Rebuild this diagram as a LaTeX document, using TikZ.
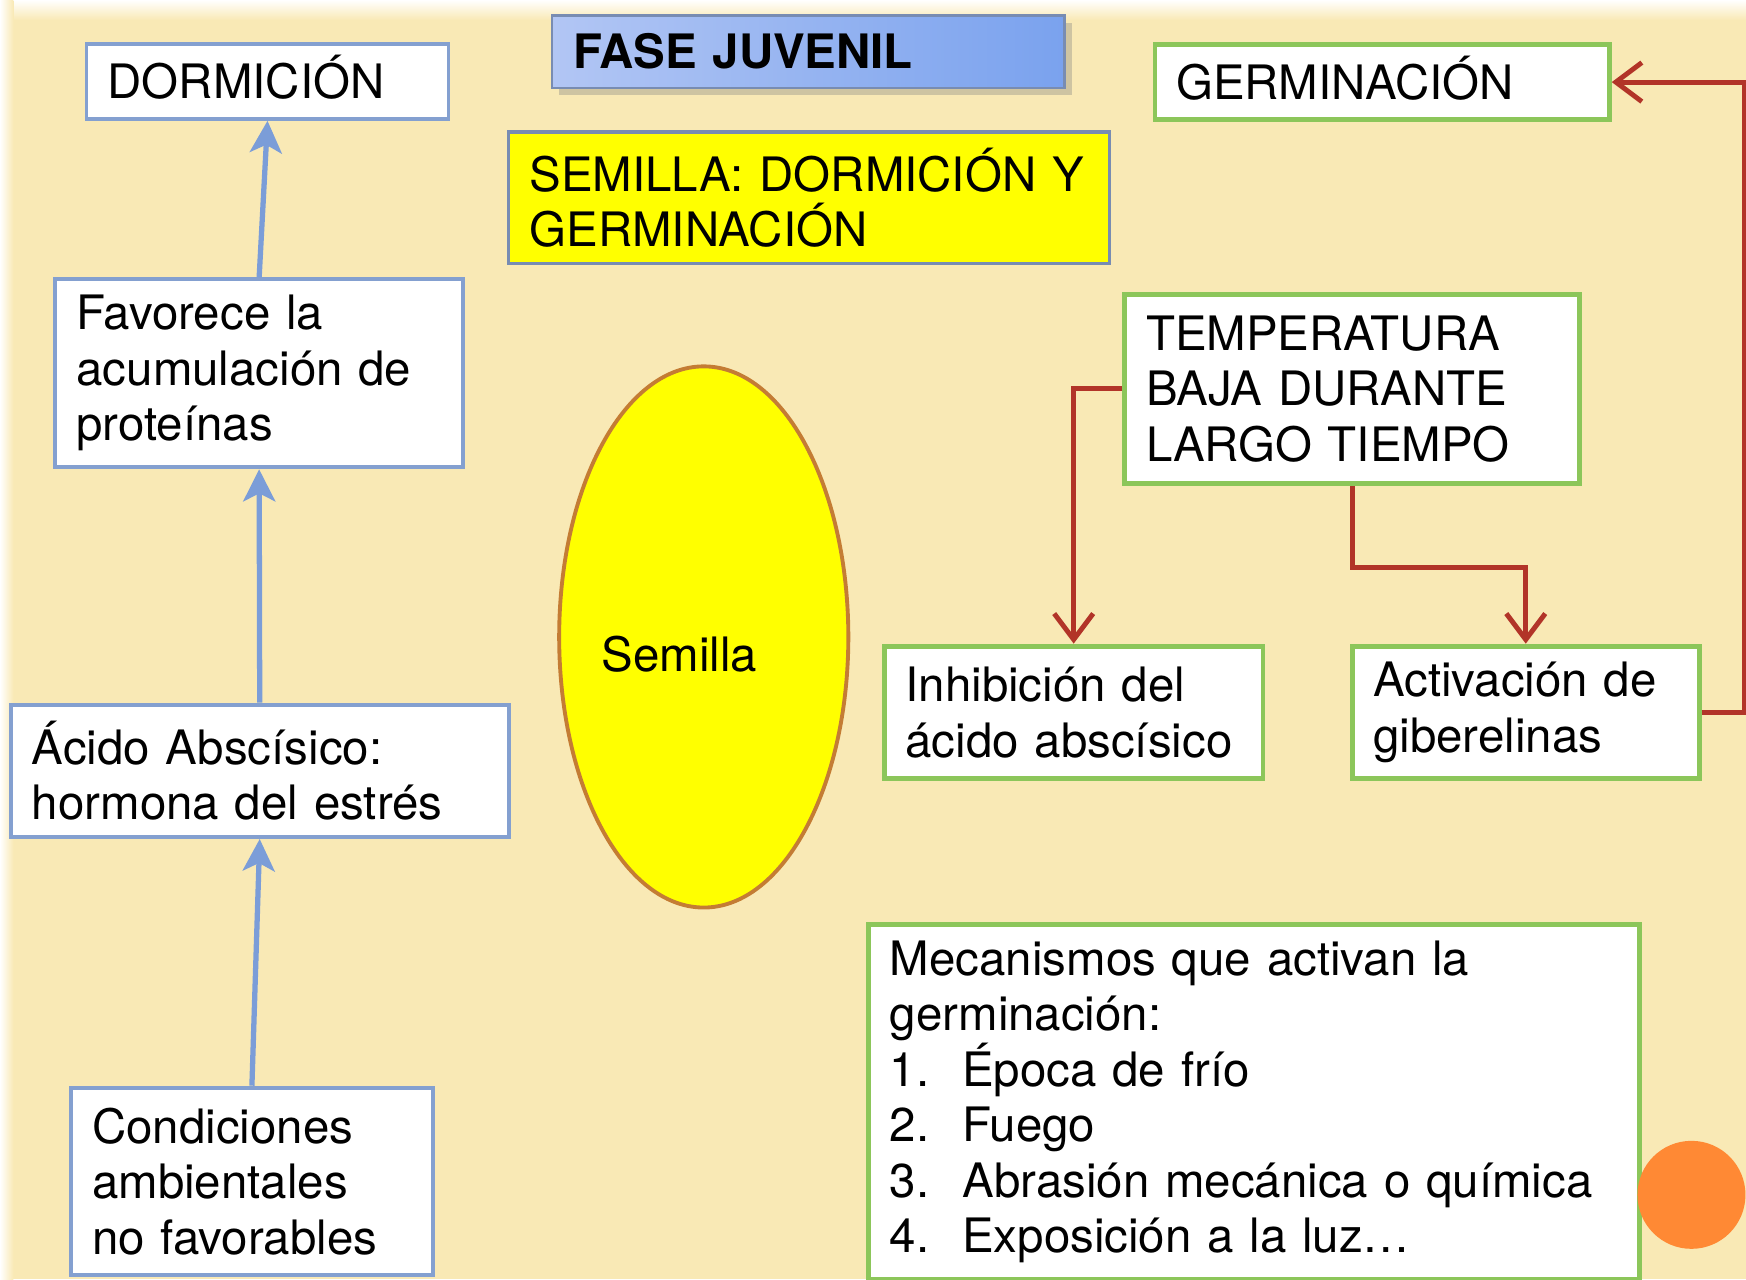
\documentclass[tikz,border=0pt]{standalone}
\usepackage{fontspec}
\setmainfont{TeX Gyre Heros}
\usetikzlibrary{arrows.meta,shapes.geometric,shadows}
\newlength{\px}
\setlength{\px}{0.011135cm}
\definecolor{bgbeige}{RGB}{249,233,181}
\definecolor{boxblue}{RGB}{132,160,208}
\definecolor{boxgreen}{RGB}{140,198,90}
\definecolor{arrowblue}{RGB}{123,157,216}
\definecolor{arrowred}{RGB}{178,52,40}
\definecolor{seedline}{RGB}{196,124,52}
\definecolor{titleline}{RGB}{120,140,178}
\definecolor{faseL}{RGB}{178,198,244}
\definecolor{faseM}{RGB}{206,218,246}
\definecolor{faseR}{RGB}{122,162,238}
\definecolor{seedfill}{RGB}{255,255,0}
\definecolor{dot}{RGB}{255,137,52}
\begin{document}
\begin{tikzpicture}[
  x=0.011135cm, y=-0.011135cm,
  box/.style={
    draw,
    fill=white,
    anchor=north west,
    align=left,
    inner xsep=19\px,
    inner ysep=0pt,
    font=\fontsize{13.5}{15.8}\selectfont
  },
  oneline/.style={text height=9.7pt, text depth=0pt},
  bluebox/.style={box, draw=boxblue, line width=1.1pt},
  greenbox/.style={box, draw=boxgreen, line width=1.4pt},
  bluearrow/.style={-{Stealth[length=3.2mm, width=3.2mm, inset=0.8mm]}, draw=arrowblue, line width=1.5pt},
  redarrow/.style={-{Straight Barb[length=2.6mm, width=3.9mm]}, draw=arrowred, line width=1.4pt}
]
\useasboundingbox (0,0) rectangle (1568,1149);
% background
\fill[bgbeige] (0,0) rectangle (1568,1149);
\shade[top color=white, bottom color=bgbeige] (0,0) rectangle (1568,18);
\shade[left color=white, right color=bgbeige] (0,0) rectangle (12,1149);

% titles
\node[box, oneline, draw=titleline, line width=0.6pt, left color=faseL, middle color=faseM, right color=faseR,
  drop shadow={shadow xshift=2pt, shadow yshift=-2pt, opacity=0.35},
  text width=422\px, minimum height=65\px, font=\fontsize{13.5}{15.8}\selectfont\bfseries] (fase) at (495,13) {FASE JUVENIL};
\node[box, draw=titleline, fill=seedfill, line width=1pt, text width=502\px, minimum height=118\px] (title) at (455,117) {SEMILLA: DORMICIÓN Y\\GERMINACIÓN};

% left column
\node[bluebox, oneline, text width=287\px, minimum height=67\px] (dorm) at (76,38) {DORMICIÓN};
\node[bluebox, text width=328\px, minimum height=169\px] (prot) at (48,249) {Favorece la\\acumulación de\\proteínas};
\node[bluebox, text width=409\px, minimum height=119\px] (aba) at (8,631) {Ácido Abscísico:\\hormona del estrés};
\node[bluebox, text width=287\px, minimum height=168\px] (cond) at (62,975) {Condiciones\\ambientales\\no favorables};

% seed
\node[ellipse, draw=seedline, fill=seedfill, line width=1.1pt, minimum width=244\px, minimum height=486\px,
  inner sep=0pt, font=\fontsize{13.5}{15.8}\selectfont] (seed) at (632,572) {\raisebox{-31\px}[0pt][0pt]{Semilla}\hspace*{44\px}};

% right side
\node[greenbox, oneline, text width=370\px, minimum height=67\px] (germ) at (1035,38) {GERMINACIÓN};
\node[greenbox, text width=370\px, minimum height=170\px] (temp) at (1008,262) {TEMPERATURA\\BAJA DURANTE\\LARGO TIEMPO};
\node[greenbox, text width=302\px, minimum height=119\px] (inhib) at (792,578) {Inhibición del\\ácido abscísico};
\node[greenbox, text width=274\px, minimum height=119\px] (gib) at (1212,578) {Activación de\\giberelinas};
\node[greenbox, text width=654\px, minimum height=319\px] (mech) at (778,828) {Mecanismos que activan la\\germinación:\\
  \makebox[65\px][l]{1.}Época de frío\\
  \makebox[65\px][l]{2.}Fuego\\
  \makebox[65\px][l]{3.}Abrasión mecánica o química\\
  \makebox[65\px][l]{4.}Exposición a la luz…};
\node[circle, fill=dot, minimum size=97\px, inner sep=0pt] (dotc) at (1519,1073) {};

% connectors
\draw[bluearrow] (cond.north) -- (aba.south);
\draw[bluearrow] (aba.north) -- (prot.south);
\draw[bluearrow] (prot.north) -- (dorm.south);
\draw[redarrow] (temp.west) -| (inhib.north);
\draw[redarrow] (temp.south) -- ++(0,73) -| (gib.north);
\draw[redarrow] (gib.east) -- ++(38,0) |- (germ.east);
\end{tikzpicture}
\end{document}
